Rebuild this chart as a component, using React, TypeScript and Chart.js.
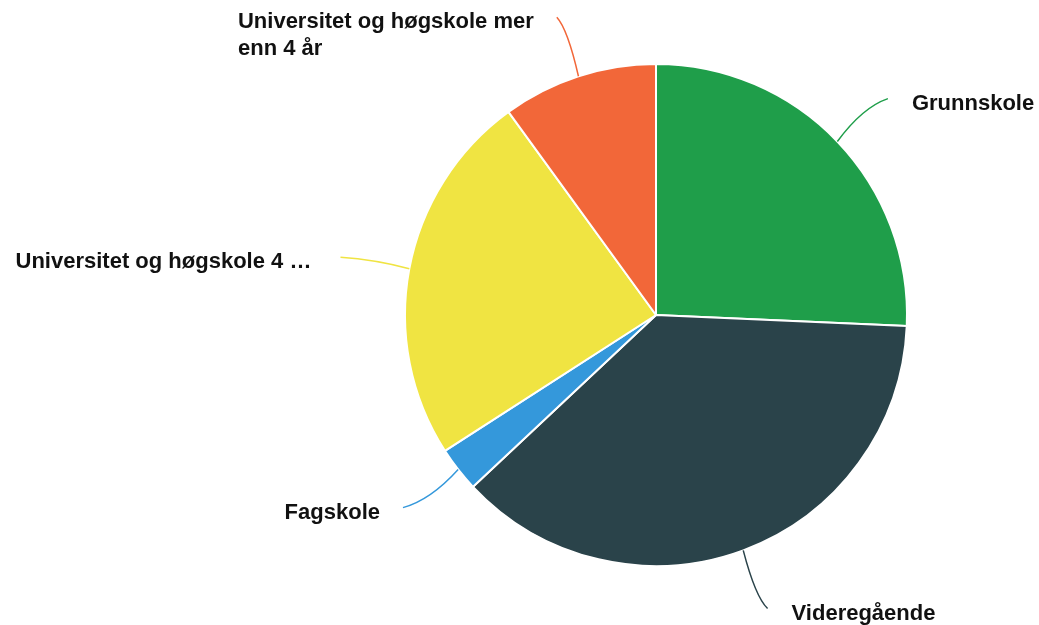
import React, { useEffect, useRef } from "react";
import { Chart, registerables } from "chart.js";

Chart.register(...registerables);

const categories = [
  "Grunnskole",
  "Videregående",
  "Fagskole",
  "Universitet og høgskole 4 år",
  "Universitet og høgskole mer enn 4 år",
];
const displayLabels = [
  ["Grunnskole"],
  ["Videregående"],
  ["Fagskole"],
  ["Universitet og høgskole 4 … "],
  ["Universitet og høgskole mer", "enn 4 år"],
];
const values = [25.7, 37.3, 2.9, 24.1, 10.0];
const colors = ["#1f9e4a", "#2a434a", "#3498db", "#f0e442", "#f26739"];

const labelPlugin = {
  id: "outerLabels",
  afterDraw(chart: any) {
    const ctx = chart.ctx;
    const meta = chart.getDatasetMeta(0);
    ctx.save();
    meta.data.forEach((arc: any, i: number) => {
      const { x, y, startAngle, endAngle, outerRadius } = arc.getProps(
        ["x", "y", "startAngle", "endAngle", "outerRadius"],
        true
      );
      const mid = (startAngle + endAngle) / 2;
      const cos = Math.cos(mid);
      const sin = Math.sin(mid);
      const sx = x + cos * outerRadius;
      const sy = y + sin * outerRadius;
      const ex = x + cos * (outerRadius + 70);
      const ey = y + sin * (outerRadius + 62);
      const cx = sx + (ex - sx) * 0.5;
      const cy = sy + (ey - sy) * 0.8;
      ctx.beginPath();
      ctx.moveTo(sx, sy);
      ctx.quadraticCurveTo(cx, cy, ex, ey);
      ctx.strokeStyle = colors[i];
      ctx.lineWidth = 1.5;
      ctx.stroke();

      const right = cos >= 0;
      ctx.fillStyle = "#111111";
      ctx.font = "bold 22px 'Liberation Sans', Arial, sans-serif";
      ctx.textBaseline = "middle";
      ctx.textAlign = "left";
      const lines = displayLabels[i];
      const maxW = Math.max(...lines.map((l) => ctx.measureText(l).width));
      const tx = right ? ex + 24 : ex - 23 - maxW;
      lines.forEach((line, j) => {
        ctx.fillText(line, tx, ey + 5 + j * 27);
      });
    });
    ctx.restore();
  },
};

export default function App() {
  const ref = useRef<HTMLCanvasElement>(null);
  useEffect(() => {
    if (!ref.current) return;
    const chart = new Chart(ref.current, {
      type: "pie",
      data: {
        labels: categories,
        datasets: [
          {
            data: values,
            backgroundColor: colors,
            borderColor: "#ffffff",
            borderWidth: 2,
          },
        ],
      },
      options: {
        animation: false,
        responsive: false,
        layout: { padding: { left: 404, right: 131, top: 63, bottom: 58 } },
        plugins: {
          legend: { display: false },
          tooltip: { enabled: false },
        },
      },
      plugins: [labelPlugin],
    });
    return () => chart.destroy();
  }, []);
  return (
    <div style={{ position: "fixed", left: 0, top: 0, width: 1039, height: 625, background: "#fff" }}>
      <canvas ref={ref} width={1039} height={625} style={{ width: 1039, height: 625 }} />
    </div>
  );
}
